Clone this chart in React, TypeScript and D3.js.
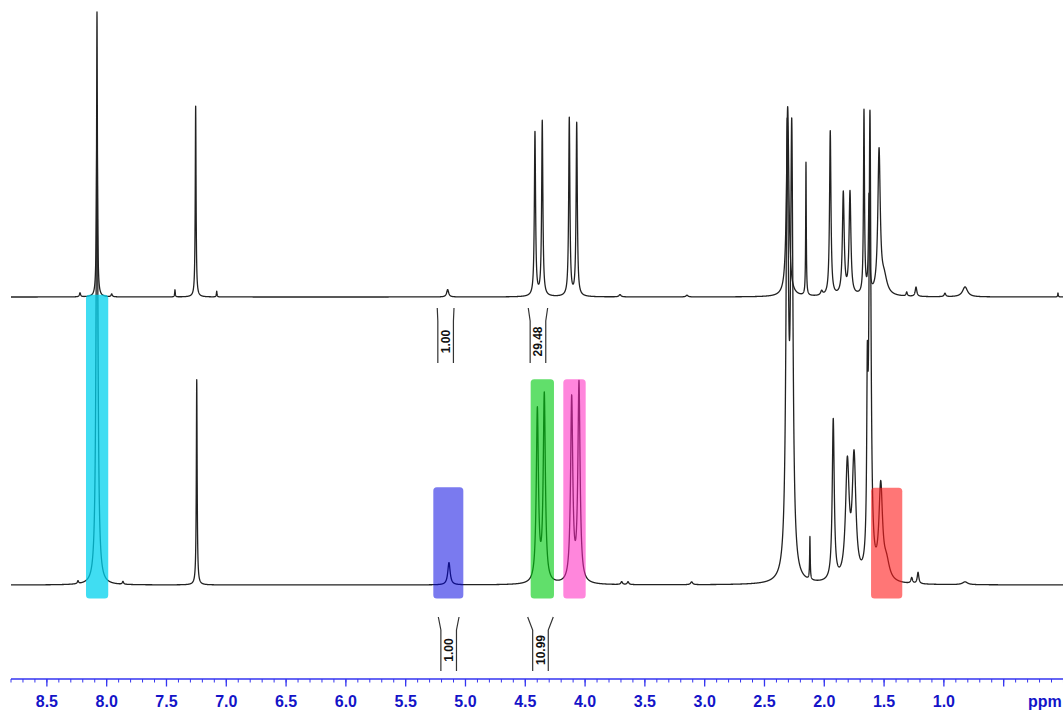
import React from "react";
import * as d3 from "d3";

// ---- Data: peak tables (ppm, intensity, half-width in ppm) ----
const topPeakPpm = [8.223, 8.081, 7.958, 7.429, 7.256, 7.080, 5.149, 4.419, 4.358, 4.132, 4.070, 3.708, 3.148, 2.306, 2.153, 2.022, 1.950, 1.841, 1.785, 1.668, 1.626, 1.542, 1.500, 1.311, 1.233, 0.991, 0.823, 0.046];
const topPeakHeight = [1.4, 100, 1.0, 2.5, 67, 2.0, 2.6, 57.5, 61.4, 62.5, 60.7, 0.8, 0.6, 66.7, 46.7, 1.5, 57.8, 35.8, 36.0, 64.2, 34.0, 50.0, 6.0, 1.4, 3.3, 1.2, 3.5, 1.4];
const topPeakWidth = [0.006, 0.004, 0.006, 0.003, 0.004, 0.003, 0.010, 0.006, 0.006, 0.006, 0.006, 0.010, 0.010, 0.012, 0.003, 0.010, 0.007, 0.009, 0.009, 0.005, 0.006, 0.012, 0.030, 0.006, 0.008, 0.008, 0.025, 0.003];

const bottomPeakPpm = [8.240, 8.081, 7.864, 7.247, 5.138, 4.399, 4.341, 4.112, 4.051, 3.694, 3.641, 3.109, 2.310, 2.272, 2.120, 1.925, 1.807, 1.751, 1.640, 1.618, 1.528, 1.480, 1.269, 1.216, 0.823];
const bottomPeakHeight = [1.0, 168, 1.0, 72, 7.8, 60.2, 65.5, 64.3, 69.6, 1.0, 1.0, 1.0, 150, 150, 15, 56.5, 40, 42, 55, 160, 32.3, 6.0, 2.0, 4.0, 1.0];
const bottomPeakWidth = [0.006, 0.009, 0.006, 0.004, 0.012, 0.0107, 0.0107, 0.011, 0.011, 0.008, 0.008, 0.010, 0.012, 0.012, 0.003, 0.010, 0.018, 0.018, 0.006, 0.010, 0.018, 0.030, 0.008, 0.008, 0.025];

// Integrals
const topIntegralFrom = [5.236, 4.475];
const topIntegralTo = [5.096, 4.313];
const topIntegralLabel = ["1.00", "29.48"];
const bottomIntegralFrom = [5.227, 4.480];
const bottomIntegralTo = [5.054, 4.266];
const bottomIntegralLabel = ["1.00", "10.99"];

// Highlighted regions on the lower spectrum (ppm from, ppm to, top intensity)
const regionFrom = [8.173, 5.269, 4.455, 4.182, 1.609];
const regionTo = [7.987, 5.018, 4.260, 3.995, 1.348];
const regionTop = [101.8, 34.3, 72.2, 72.2, 34.1];
const regionColor = ["#00d2ee", "#0000e0", "#00cc10", "#ff22c0", "#ff1a1a"];
const regionOpacity = [0.75, 0.52, 0.62, 0.55, 0.6];

// Axis labels
const majorTickValues = [8.5, 8.0, 7.5, 7.0, 6.5, 6.0, 5.5, 5.0, 4.5, 4.0, 3.5, 3.0, 2.5, 2.0, 1.5, 1.0, 0.5];
const majorTickLabels = ["8.5", "8.0", "7.5", "7.0", "6.5", "6.0", "5.5", "5.0", "4.5", "4.0", "3.5", "3.0", "2.5", "2.0", "1.5", "1.0", ""];

const W = 1063;
const H = 710;

function spectrum(ppms: number[], hs: number[], ws: number[], grid: number[]) {
  return grid.map((p) => {
    let s = 0;
    for (let i = 0; i < ppms.length; i++) {
      const d = (p - ppms[i]) / ws[i];
      s += hs[i] / (1 + d * d);
    }
    return [p, s] as [number, number];
  });
}

export default function App() {
  const x = d3.scaleLinear().domain([8.8, 0]).range([11, 11 + 8.8 * 119.6]);
  const yTop = d3.scaleLinear().domain([0, 100]).range([297, 12]);
  const yBot = d3.scaleLinear().domain([0, 100]).range([585, 300]);

  const grid = d3.range(0, 17601).map((i) => 8.8 - i * 0.0005);
  const topData = spectrum(topPeakPpm, topPeakHeight, topPeakWidth, grid);
  const botData = spectrum(bottomPeakPpm, bottomPeakHeight, bottomPeakWidth, grid);

  const lineTop = d3.line<[number, number]>().x((d) => x(d[0])).y((d) => yTop(d[1]));
  const lineBot = d3.line<[number, number]>().x((d) => x(d[0])).y((d) => yBot(d[1]));

  const minorTicks = d3.range(0, 89).map((i) => Math.round((8.8 - i * 0.1) * 10) / 10);

  const axisY = 679;
  const axisColor = "#3434f0";
  const labelColor = "#1414c8";

  const bracket = (from: number, to: number, label: string, y0: number, y1: number, key: string) => {
    const a = x(from);
    const b = x(to);
    const c = (a + b) / 2;
    const ih = Math.min((b - a) / 2, 7.8);
    const yf = y0 + 13;
    const dPath = `M${a},${y0}L${c - ih},${yf}L${c - ih},${y1}M${b},${y0}L${c + ih},${yf}L${c + ih},${y1}`;
    const ym = (y0 + y1) / 2 + 6;
    return (
      <g key={key}>
        <path d={dPath} fill="none" stroke="#333" strokeWidth={1.2} />
        <text
          transform={`translate(${c + 4.5},${ym}) rotate(-90)`}
          textAnchor="middle"
          fontFamily="'Liberation Sans', Arial, sans-serif"
          fontWeight="bold"
          fontSize={12}
          fill="#111"
        >
          {label}
        </text>
      </g>
    );
  };

  return (
    <svg
      width={W}
      height={H}
      style={{ position: "absolute", left: 0, top: 0, background: "#fff" }}
      xmlns="http://www.w3.org/2000/svg"
    >
      <rect x={0} y={0} width={W} height={H} fill="#fff" />
      <path d={lineTop(topData) || ""} fill="none" stroke="#222" strokeWidth={1.3} strokeLinejoin="round" />
      <path d={lineBot(botData) || ""} fill="none" stroke="#222" strokeWidth={1.3} strokeLinejoin="round" />

      {regionFrom.map((f, i) => {
        const x0 = x(f);
        const x1 = x(regionTo[i]);
        const yt = yBot(regionTop[i]);
        const yb = 598.5;
        return (
          <rect
            key={"r" + i}
            x={x0}
            y={yt}
            width={x1 - x0}
            height={yb - yt}
            rx={3.5}
            ry={3.5}
            fill={regionColor[i]}
            fillOpacity={regionOpacity[i]}
          />
        );
      })}

      {topIntegralFrom.map((f, i) => bracket(f, topIntegralTo[i], topIntegralLabel[i], 308, 363, "ti" + i))}
      {bottomIntegralFrom.map((f, i) => bracket(f, bottomIntegralTo[i], bottomIntegralLabel[i], 617, 671, "bi" + i))}

      {/* axis */}
      <line x1={11} x2={W} y1={axisY} y2={axisY} stroke={axisColor} strokeWidth={1.5} />
      {minorTicks.map((t) => (
        <line key={"m" + t} x1={x(t)} x2={x(t)} y1={axisY} y2={axisY + 3.5} stroke={axisColor} strokeWidth={1} />
      ))}
      {majorTickValues.map((t, i) => (
        <g key={"M" + t}>
          <line x1={x(t)} x2={x(t)} y1={axisY} y2={axisY + 7.5} stroke={axisColor} strokeWidth={1.3} />
          <text
            x={x(t)}
            y={707}
            textAnchor="middle"
            fontFamily="'Liberation Sans', Arial, sans-serif"
            fontWeight="bold"
            fontSize={16}
            fill={labelColor}
          >
            {majorTickLabels[i]}
          </text>
        </g>
      ))}
      <text
        x={1028}
        y={707}
        fontFamily="'Liberation Sans', Arial, sans-serif"
        fontWeight="bold"
        fontSize={16}
        fill={labelColor}
      >
        ppm
      </text>
    </svg>
  );
}
